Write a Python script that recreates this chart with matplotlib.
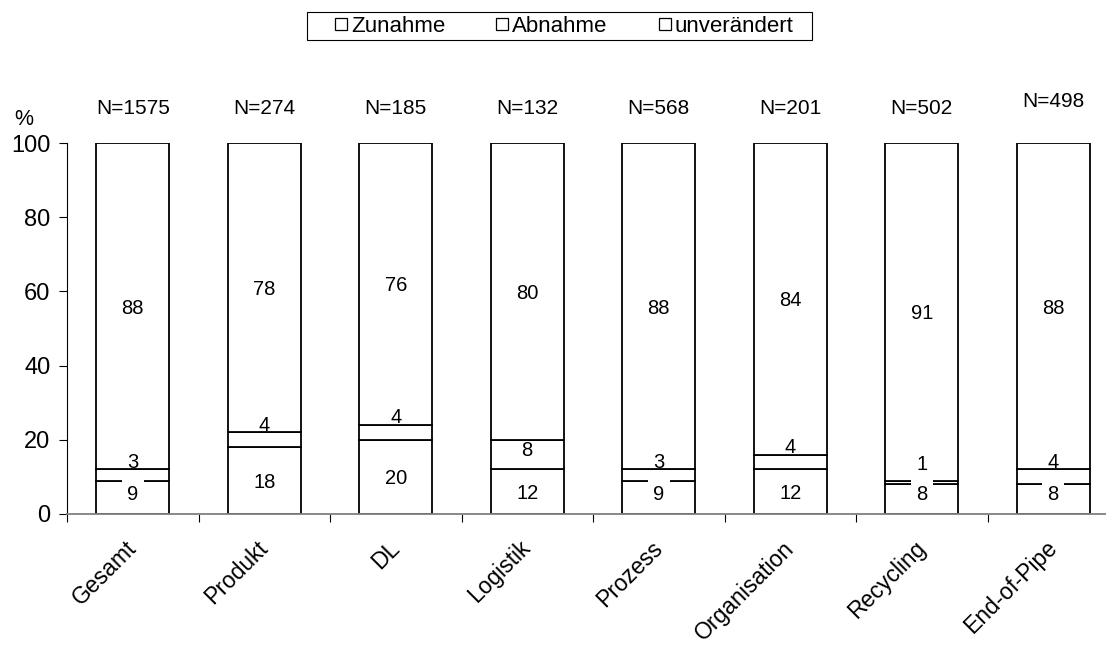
import numpy as np
import matplotlib
matplotlib.use('Agg')
import matplotlib.pyplot as plt
import matplotlib.transforms as mtransforms
from matplotlib.lines import Line2D
from matplotlib.patches import Rectangle

categories = ["Gesamt", "Produkt", "DL", "Logistik", "Prozess",
              "Organisation", "Recycling", "End-of-Pipe"]
n_labels = ["N=1575", "N=274", "N=185", "N=132", "N=568",
            "N=201", "N=502", "N=498"]
zunahme = [9, 18, 20, 12, 9, 12, 8, 8]
abnahme = [3, 4, 4, 8, 3, 4, 1, 4]
unveraendert = [88, 78, 76, 80, 88, 84, 91, 88]
series_names = ["Zunahme", "Abnahme", "unverändert"]


def main():
    plt.rcParams['font.family'] = ['Liberation Sans', 'DejaVu Sans']
    fs = 14.5
    dy = -0.5   # va='center' sits digits a bit high, pull them down

    fig = plt.figure(figsize=(11.06, 6.45), dpi=100)
    # axes right edge lies a bit outside the picture, as in the original
    ax = fig.add_axes([67 / 1106, 131 / 645, 1052 / 1106, 371 / 645])

    x = np.arange(len(categories))
    z = np.array(zunahme, dtype=float)
    a = np.array(abnahme, dtype=float)
    u = np.array(unveraendert, dtype=float)
    w = 0.555
    style = dict(width=w, color='white', edgecolor='black', linewidth=1.3, zorder=2)
    ax.bar(x, z, **style)
    ax.bar(x, a, bottom=z, **style)
    ax.bar(x, u, bottom=z + a, **style)

    box = dict(facecolor='white', edgecolor='none', pad=3.8)
    for i in range(len(x)):
        yz = max(z[i] / 2, 5.7)
        ax.text(x[i], yz + dy, f"{zunahme[i]:g}", ha='center', va='center',
                fontsize=fs, bbox=box, zorder=4)
        top = z[i] + a[i]
        if a[i] >= 6:
            ya = z[i] + a[i] / 2 + 1.5
        else:
            ya = max(top + 2.4, yz + 8.2)
        ax.text(x[i], ya + dy, f"{abnahme[i]:g}", ha='center', va='center',
                fontsize=fs, zorder=4)
        yu = top + u[i] / 2
        ax.text(x[i], yu + dy, f"{unveraendert[i]:g}", ha='center', va='center',
                fontsize=fs, zorder=4)
        yn = 111.6 if i == len(x) - 1 else 109.7
        ax.text(x[i], yn + dy, n_labels[i], ha='center', va='center',
                fontsize=15, clip_on=False)

    ax.text(-0.83, 106.7 + dy, "%", ha='center', va='center', fontsize=15.5,
            clip_on=False)

    ax.set_xlim(-0.5, 7.5)
    ax.set_ylim(0, 100)
    ax.set_yticks([0, 20, 40, 60, 80, 100])
    ax.tick_params(axis='y', labelsize=17, length=6, width=0.8, direction='out',
                   pad=6)
    ax.set_xticks(x)
    ax.set_xticklabels(categories, rotation=45, ha='right', va='center',
                       rotation_mode='anchor', fontsize=16.5)
    shift = mtransforms.ScaledTranslation(-13 / 100, 0, fig.dpi_scale_trans)
    for lab in ax.get_xticklabels():
        lab.set_transform(lab.get_transform() + shift)
    ax.set_xticks(np.arange(-0.5, 8.0, 1.0), minor=True)
    ax.tick_params(axis='x', which='major', length=0, pad=22)
    ax.tick_params(axis='x', which='minor', length=6, width=0.8, color='black')
    for s in ['top', 'right']:
        ax.spines[s].set_visible(False)
    ax.spines['left'].set_linewidth(0.8)
    ax.spines['bottom'].set_color('#808080')
    ax.spines['bottom'].set_linewidth(1.3)

    # legend: entries spread inside a separately drawn frame
    handles = [Line2D([], [], linestyle='None', marker='s', markersize=8.5,
                      markerfacecolor='white', markeredgecolor='black',
                      markeredgewidth=0.9) for _ in series_names]
    fig.legend(handles, series_names, loc='center', ncol=3, mode='expand',
               bbox_to_anchor=(329 / 1106, 1 - 40 / 645, 468 / 1106, 28 / 645),
               fontsize=16, frameon=False, handletextpad=0.05,
               columnspacing=2.3, handlelength=0.8, borderpad=0.15,
               borderaxespad=0)
    fig.patches.append(Rectangle((307 / 1106, 1 - 40 / 645), 505 / 1106, 28 / 645,
                                 transform=fig.transFigure, fill=False,
                                 edgecolor='black', linewidth=0.8))

    fig.savefig("out.png", dpi=100)


if __name__ == "__main__":
    main()
